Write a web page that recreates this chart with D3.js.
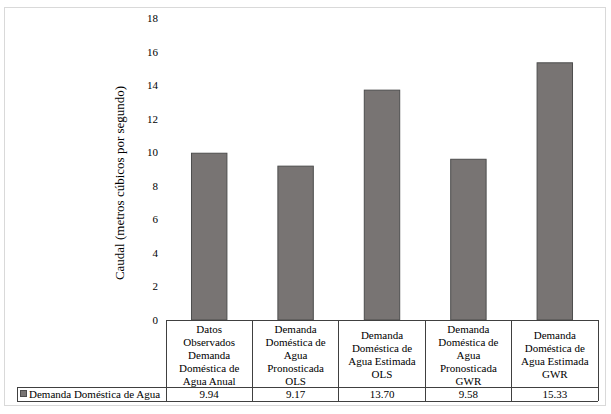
<!DOCTYPE html>
<html>
<head>
<meta charset="utf-8">
<script src="https://cdn.jsdelivr.net/npm/d3@7"></script>
<style>
  body { margin: 0; background: #fff; }
  svg text { font-family: "Liberation Serif", "Times New Roman", Times, serif !important; fill: #000; }
</style>
</head>
<body>
<div id="chart"></div>
<script>
// data
var categories = [
  ["Datos", "Observados", "Demanda", "Doméstica de", "Agua Anual"],
  ["Demanda", "Doméstica de", "Agua", "Pronosticada", "OLS"],
  ["Demanda", "Doméstica de", "Agua Estimada", "OLS"],
  ["Demanda", "Doméstica de", "Agua", "Pronosticada", "GWR"],
  ["Demanda", "Doméstica de", "Agua Estimada", "GWR"]
];
var values = [9.94, 9.17, 13.70, 9.58, 15.33];
var valueLabels = ["9.94", "9.17", "13.70", "9.58", "15.33"];
var seriesName = "Demanda Doméstica de Agua";
var yTicks = [0, 2, 4, 6, 8, 10, 12, 14, 16, 18];
var yLabel = "Caudal (metros cúbicos por segundo)";

var svgWidth = 611;
var svgHeight = 414;
var serif = "'Liberation Serif', 'Times New Roman', serif";

var svg = d3.select("#chart")
  .append("svg")
  .attr("width", svgWidth)
  .attr("height", svgHeight)
  .attr("font-family", serif);

// outer frame
svg.append("rect")
  .attr("x", 4.5)
  .attr("y", 7.5)
  .attr("width", 601)
  .attr("height", 398)
  .attr("fill", "none")
  .attr("stroke", "#d9d9d9");

var plotLeft = 166;
var plotRight = 598;
var yZero = 320;
var yTop = 18;

var x = d3.scaleBand()
  .domain(d3.range(values.length))
  .range([plotLeft, plotRight])
  .padding(0);

var y = d3.scaleLinear()
  .domain([0, 18])
  .range([yZero, yTop]);

// y tick labels
var leftAxis = d3.axisLeft(y).tickValues(yTicks).tickSize(0).tickPadding(8);
var yAxisG = svg.append("g")
  .attr("transform", `translate(${plotLeft}, 0)`)
  .call(leftAxis)
  .attr("font-family", serif)
  .attr("font-size", 11);
yAxisG.select(".domain").remove();
yAxisG.selectAll("text")
  .style("font-family", serif)
  .attr("fill", "#000");

// y label
svg.append("text")
  .attr("transform", "rotate(-90)")
  .attr("x", -183)
  .attr("y", 124)
  .attr("text-anchor", "middle")
  .attr("font-size", "13px")
  .style("font-family", serif)
  .text(yLabel);

// bars
var barW = x.bandwidth() * 0.41;
svg.selectAll(".bar")
  .data(values)
  .enter()
  .append("rect")
  .attr("class", "bar")
  .attr("x", (d, i) => x(i) + (x.bandwidth() - barW) / 2)
  .attr("y", d => y(d))
  .attr("width", barW)
  .attr("height", d => yZero - y(d))
  .attr("fill", "#787473")
  .attr("stroke", "#4d4d4d")
  .attr("stroke-width", 1);

// data table
var tableBottom = 401;
var rowSplit = 387;
var legendLeft = 17;
var lineCol = "#404040";

var grid = svg.append("g")
  .attr("stroke", lineCol)
  .attr("stroke-width", 1)
  .attr("fill", "none")
  .attr("shape-rendering", "crispEdges");

// top line of category row
grid.append("line").attr("x1", plotLeft).attr("x2", plotRight).attr("y1", yZero).attr("y2", yZero);
// split between category row and value row
grid.append("line").attr("x1", legendLeft).attr("x2", plotRight).attr("y1", rowSplit).attr("y2", rowSplit);
// bottom line
grid.append("line").attr("x1", legendLeft).attr("x2", plotRight).attr("y1", tableBottom).attr("y2", tableBottom);
// legend cell left edge
grid.append("line").attr("x1", legendLeft).attr("x2", legendLeft).attr("y1", rowSplit).attr("y2", tableBottom);
// column separators
d3.range(values.length + 1).forEach(function(i) {
  var xx = i < values.length ? x(i) : plotRight;
  grid.append("line").attr("x1", xx).attr("x2", xx).attr("y1", yZero).attr("y2", tableBottom);
});

// category labels
var lineH = 13;
var catMid = (yZero + rowSplit) / 2 + 1;
categories.forEach(function(lines, i) {
  var t = svg.append("text")
    .attr("text-anchor", "middle")
    .attr("font-size", "11px")
    .style("font-family", serif);
  var startY = catMid - (lines.length - 1) * lineH / 2 + 4;
  lines.forEach(function(l, j) {
    t.append("tspan")
      .attr("x", x(i) + x.bandwidth() / 2)
      .attr("y", startY + j * lineH)
      .text(l);
  });
});

// value labels
svg.selectAll(".val")
  .data(valueLabels)
  .enter()
  .append("text")
  .attr("class", "val")
  .attr("x", (d, i) => x(i) + x.bandwidth() / 2)
  .attr("y", (rowSplit + tableBottom) / 2 + 4)
  .attr("text-anchor", "middle")
  .attr("font-size", "11px")
  .style("font-family", serif)
  .text(d => d);

// legend key
svg.append("rect")
  .attr("x", 20.5)
  .attr("y", 390.5)
  .attr("width", 6)
  .attr("height", 6)
  .attr("fill", "#787473")
  .attr("stroke", "#4d4d4d");

svg.append("text")
  .attr("x", 29)
  .attr("y", (rowSplit + tableBottom) / 2 + 4)
  .attr("font-size", "11px")
  .style("font-family", serif)
  .text(seriesName);
</script>
</body>
</html>
